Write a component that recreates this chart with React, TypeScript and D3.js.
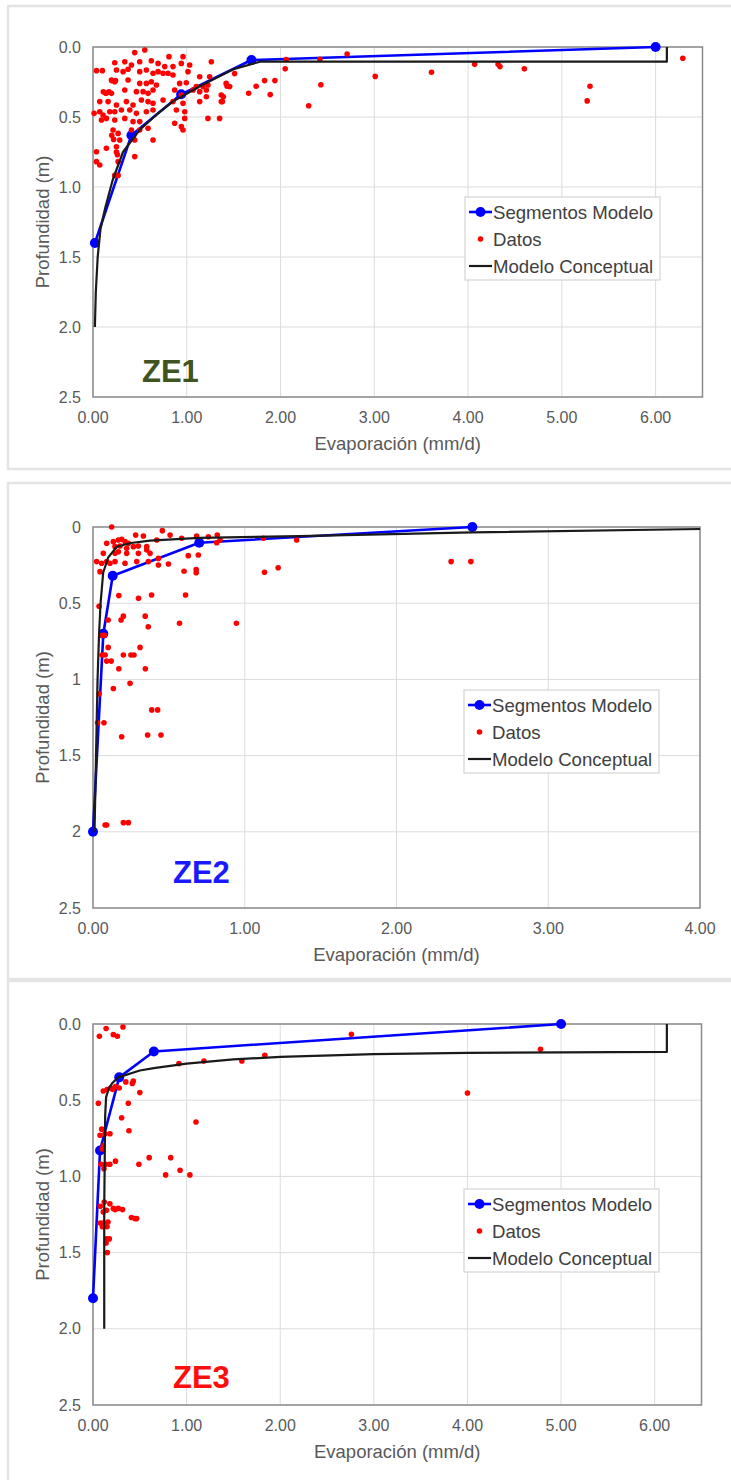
import React from "react";
import * as d3 from "d3";

type Pt = [number, number]; // [evaporación mm/d, profundidad m]

// ---------- ZE1 ----------
const ze1Segmentos: Pt[] = [[6.0, 0.0], [1.69, 0.093], [0.94, 0.338], [0.41, 0.63], [0.02, 1.4]];
const ze1Conceptual: Pt[] = [
  [0.02, 2.0], [0.03, 1.75], [0.05, 1.5], [0.08, 1.3], [0.13, 1.15], [0.21, 0.95], [0.32, 0.75],
  [0.5, 0.59], [0.7, 0.47], [0.85, 0.39], [1.14, 0.28], [1.49, 0.16], [1.78, 0.105], [6.12, 0.105], [6.12, 0.0],
];
const ze1Datos: Pt[] = [
  [0.552, 0.021], [0.445, 0.04], [0.81, 0.069], [0.96, 0.069], [1.262, 0.105],
  [0.232, 0.112], [0.339, 0.105], [0.41, 0.129], [0.498, 0.105], [0.622, 0.098], [0.694, 0.117], [0.765, 0.14],
  [0.853, 0.14], [0.942, 0.117], [1.031, 0.129],
  [0.037, 0.169], [0.1, 0.169], [0.25, 0.164], [0.321, 0.176], [0.374, 0.159], [0.498, 0.176], [0.569, 0.164],
  [0.64, 0.188], [0.694, 0.176], [0.747, 0.188], [0.8, 0.188], [0.853, 0.2], [1.013, 0.176], [1.138, 0.212], [1.244, 0.212],
  [0.197, 0.236], [0.232, 0.248], [0.374, 0.236], [0.498, 0.26], [0.569, 0.26], [0.622, 0.248], [0.676, 0.271],
  [0.924, 0.26], [0.995, 0.255], [1.102, 0.283], [1.173, 0.283], [1.226, 0.271], [1.42, 0.26], [0.2, 0.24], [0.24, 0.24],
  [0.136, 0.331], [0.197, 0.331], [0.339, 0.307], [0.463, 0.319], [0.534, 0.319], [0.587, 0.331], [0.64, 0.307],
  [0.871, 0.307], [0.942, 0.343], [1.067, 0.307], [1.138, 0.319], [1.209, 0.307], [1.368, 0.343], [1.457, 0.283],
  [0.11, 0.32], [0.14, 0.33], [0.17, 0.32],
  [0.072, 0.39], [0.161, 0.39], [0.25, 0.414], [0.356, 0.39], [0.427, 0.414], [0.516, 0.379], [0.587, 0.39],
  [0.64, 0.402], [0.747, 0.379], [0.853, 0.39], [0.96, 0.402], [1.138, 0.39], [1.209, 0.355], [1.368, 0.39],
  [0.012, 0.474], [0.072, 0.462], [0.107, 0.486], [0.179, 0.462], [0.232, 0.462], [0.303, 0.45], [0.392, 0.45],
  [0.463, 0.474], [0.569, 0.462], [0.64, 0.45], [0.889, 0.45], [0.978, 0.462], [1.226, 0.51], [1.35, 0.51],
  [0.09, 0.521], [0.143, 0.51], [0.232, 0.521], [0.339, 0.51], [0.427, 0.533], [0.498, 0.533], [0.871, 0.545],
  [0.942, 0.569], [0.978, 0.51],
  [0.214, 0.593], [0.268, 0.617], [0.41, 0.593], [0.498, 0.593], [0.587, 0.581], [0.64, 0.664], [0.445, 0.664], [0.96, 0.593],
  [0.2, 0.63], [0.22, 0.66], [0.25, 0.75], [0.26, 0.77],
  [0.037, 0.748], [0.143, 0.724], [0.25, 0.712], [0.285, 0.664],
  [0.037, 0.819], [0.072, 0.843], [0.268, 0.819], [0.445, 0.783],
  [0.232, 0.917], [0.268, 0.917],
  [2.71, 0.05], [6.29, 0.08], [2.42, 0.088], [2.06, 0.09], [2.05, 0.156], [4.07, 0.124], [4.32, 0.124], [4.34, 0.14],
  [4.6, 0.156], [3.61, 0.18], [3.01, 0.21], [1.94, 0.24], [1.83, 0.24], [1.51, 0.19], [2.43, 0.27], [5.3, 0.28],
  [5.27, 0.385], [2.3, 0.42], [1.74, 0.28], [1.89, 0.34], [1.66, 0.33], [1.43, 0.28], [1.39, 0.356], [1.38, 0.39],
];

// ---------- ZE2 ----------
const ze2Segmentos: Pt[] = [[2.5, 0.0], [0.7, 0.103], [0.13, 0.32], [0.068, 0.7], [0.0, 2.0]];
const ze2Conceptual: Pt[] = [
  [0.01, 2.0], [0.02, 1.5], [0.03, 1.0], [0.04, 0.7], [0.05, 0.5], [0.067, 0.3], [0.1, 0.2], [0.156, 0.13],
  [0.25, 0.105], [0.375, 0.09], [0.7, 0.072], [1.36, 0.06], [2.5, 0.035], [4.0, 0.013],
];
const ze2Datos: Pt[] = [
  [0.123, 0.0], [0.457, 0.024], [0.281, 0.053], [0.332, 0.059], [0.508, 0.053], [0.584, 0.074], [0.683, 0.059],
  [0.76, 0.064], [0.819, 0.053], [0.837, 0.085], [0.815, 0.103], [1.123, 0.074], [1.342, 0.085],
  [0.09, 0.107], [0.134, 0.096], [0.167, 0.085], [0.189, 0.081], [0.211, 0.096], [0.233, 0.107], [0.42, 0.085],
  [0.145, 0.129], [0.178, 0.125], [0.222, 0.14], [0.266, 0.129], [0.299, 0.125], [0.354, 0.129],
  [0.068, 0.173], [0.145, 0.173], [0.167, 0.162], [0.222, 0.173], [0.299, 0.173], [0.354, 0.151], [0.376, 0.173], [0.431, 0.206],
  [0.024, 0.227], [0.057, 0.238], [0.09, 0.227], [0.112, 0.238], [0.145, 0.227], [0.211, 0.238], [0.288, 0.227], [0.365, 0.227],
  [0.046, 0.293], [0.431, 0.249], [0.497, 0.243], [0.628, 0.188], [0.694, 0.184],
  [2.36, 0.227], [2.49, 0.227], [1.13, 0.297], [1.22, 0.267], [0.6, 0.29], [0.68, 0.28], [0.68, 0.3],
  [0.386, 0.446], [0.3, 0.468], [0.17, 0.45], [0.61, 0.446], [0.344, 0.585], [0.364, 0.655], [0.57, 0.632],
  [0.945, 0.632], [0.185, 0.61], [0.2, 0.585], [0.1, 0.61], [0.04, 0.52], [0.06, 0.71], [0.075, 0.71],
  [0.31, 0.79], [0.1, 0.79], [0.06, 0.84], [0.08, 0.84], [0.2, 0.84], [0.25, 0.84], [0.27, 0.84],
  [0.17, 0.93], [0.345, 0.93], [0.09, 0.88], [0.12, 0.88],
  [0.244, 1.026], [0.134, 1.06], [0.04, 1.095], [0.387, 1.2], [0.426, 1.2], [0.03, 1.284], [0.072, 1.284],
  [0.189, 1.376], [0.36, 1.365], [0.448, 1.365], [0.08, 1.955], [0.09, 1.955], [0.2, 1.94], [0.233, 1.94],
];

// ---------- ZE3 ----------
const ze3Segmentos: Pt[] = [[5.0, 0.0], [0.65, 0.18], [0.28, 0.35], [0.075, 0.83], [0.0, 1.8]];
const ze3Conceptual: Pt[] = [
  [0.12, 2.0], [0.12, 1.2], [0.13, 0.6], [0.14, 0.48], [0.17, 0.42], [0.21, 0.385], [0.27, 0.35], [0.5, 0.305],
  [0.65, 0.29], [1.0, 0.26], [1.5, 0.232], [2.0, 0.216], [3.0, 0.198], [4.0, 0.19], [5.0, 0.186], [6.13, 0.183], [6.13, 0.0],
];
const ze3Datos: Pt[] = [
  [0.068, 0.081], [0.14, 0.03], [0.217, 0.07], [0.26, 0.08], [0.32, 0.02], [0.918, 0.26], [1.185, 0.243],
  [1.59, 0.243], [1.835, 0.205], [2.76, 0.068], [4.78, 0.166], [4.0, 0.453],
  [0.35, 0.38], [0.42, 0.39], [0.43, 0.375], [0.5, 0.45],
  [0.11, 0.44], [0.15, 0.43], [0.19, 0.42], [0.24, 0.41], [0.28, 0.42], [0.21, 0.43],
  [0.057, 0.52], [0.377, 0.52], [0.306, 0.615], [1.1, 0.643], [0.384, 0.7],
  [0.093, 0.69], [0.128, 0.72], [0.075, 0.73], [0.181, 0.72], [0.1, 0.82], [0.11, 0.8],
  [0.085, 0.92], [0.135, 0.92], [0.18, 0.92], [0.117, 0.95], [0.24, 0.9], [0.49, 0.92], [0.6, 0.877],
  [0.83, 0.877], [0.776, 0.99], [0.93, 0.96], [1.035, 0.99],
  [0.078, 1.196], [0.12, 1.168], [0.18, 1.18], [0.145, 1.222], [0.217, 1.21], [0.235, 1.218], [0.27, 1.21],
  [0.316, 1.218], [0.11, 1.233], [0.41, 1.27], [0.45, 1.277], [0.466, 1.277],
  [0.078, 1.306], [0.11, 1.306], [0.16, 1.299], [0.1, 1.33], [0.15, 1.33],
  [0.146, 1.41], [0.174, 1.41], [0.14, 1.437], [0.153, 1.5],
];

const depthTicks = [0, 0.5, 1, 1.5, 2, 2.5];
const ticksTo6 = [0, 1, 2, 3, 4, 5, 6];
const ticksTo4 = [0, 1, 2, 3, 4];
const legendLabels = ["Segmentos Modelo", "Datos", "Modelo Conceptual"];
const xTitle = "Evaporación (mm/d)";
const yTitle = "Profundidad (m)";

const FONT = "'Liberation Sans', Arial, sans-serif";
const BLUE = "#0000ff";
const RED = "#ff0000";
const BLACK = "#1a1a1a";
const GRAY_TXT = "#595959";

interface PanelCfg {
  frameTop: number;
  frameBottom: number;
  left: number;
  right: number;
  top: number;
  bottom: number;
  xMax: number;
  xTicks: number[];
  yFmt: (d: number) => string;
  segmentos: Pt[];
  conceptual: Pt[];
  datos: Pt[];
  label: string;
  labelColor: string;
  labelX: number;
  labelY: number;
  legendX: number;
  legendY: number;
}

const fmt1 = d3.format(".1f");
const fmtG = (d: number) => String(d);
const fmt2 = d3.format(".2f");

const panels: PanelCfg[] = [
  {
    frameTop: 6, frameBottom: 469, left: 93, right: 702.5, top: 47, bottom: 397,
    xMax: 6.5, xTicks: ticksTo6, yFmt: fmt1,
    segmentos: ze1Segmentos, conceptual: ze1Conceptual, datos: ze1Datos,
    label: "ZE1", labelColor: "#3f5420", labelX: 142, labelY: 382, legendX: 465, legendY: 197,
  },
  {
    frameTop: 483, frameBottom: 979, left: 93, right: 700, top: 527, bottom: 908,
    xMax: 4, xTicks: ticksTo4, yFmt: fmtG,
    segmentos: ze2Segmentos, conceptual: ze2Conceptual, datos: ze2Datos,
    label: "ZE2", labelColor: "#1a1aff", labelX: 173, labelY: 883, legendX: 464, legendY: 690,
  },
  {
    frameTop: 981, frameBottom: 1500, left: 93, right: 701.5, top: 1024, bottom: 1405,
    xMax: 6.5, xTicks: ticksTo6, yFmt: fmt1,
    segmentos: ze3Segmentos, conceptual: ze3Conceptual, datos: ze3Datos,
    label: "ZE3", labelColor: "#ff0d0d", labelX: 173, labelY: 1388, legendX: 464, legendY: 1189,
  },
];

function Panel({ cfg }: { cfg: PanelCfg }) {
  const x = d3.scaleLinear().domain([0, cfg.xMax]).range([cfg.left, cfg.right]);
  const y = d3.scaleLinear().domain([0, 2.5]).range([cfg.top, cfg.bottom]);
  const line = d3.line<Pt>().x((d) => x(d[0])).y((d) => y(d[1]));
  const lx = cfg.legendX;
  const ly = cfg.legendY;
  const rows = [15, 42, 69];

  return (
    <g>
      <rect x={8} y={cfg.frameTop} width={740} height={cfg.frameBottom - cfg.frameTop}
        fill="#ffffff" stroke="#e4e4e4" strokeWidth={2.5} />

      {/* gridlines */}
      {cfg.xTicks.map((t) => (
        <line key={"gx" + t} x1={x(t)} x2={x(t)} y1={cfg.top} y2={cfg.bottom} stroke="#dcdcdc" strokeWidth={1} />
      ))}
      {depthTicks.map((t) => (
        <line key={"gy" + t} x1={cfg.left} x2={cfg.right} y1={y(t)} y2={y(t)} stroke="#dcdcdc" strokeWidth={1} />
      ))}
      <rect x={cfg.left} y={cfg.top} width={cfg.right - cfg.left} height={cfg.bottom - cfg.top}
        fill="none" stroke="#8a8a8a" strokeWidth={1.5} />

      {/* tick labels */}
      {depthTicks.map((t) => (
        <text key={"ty" + t} x={cfg.left - 12} y={y(t)} dy="0.35em" textAnchor="end"
          fontFamily={FONT} fontSize={16} fill={GRAY_TXT}>{cfg.yFmt(t)}</text>
      ))}
      {cfg.xTicks.map((t) => (
        <text key={"tx" + t} x={x(t)} y={cfg.bottom + 26} textAnchor="middle"
          fontFamily={FONT} fontSize={16} fill={GRAY_TXT}>{fmt2(t)}</text>
      ))}

      {/* axis titles */}
      <text x={(cfg.left + cfg.right) / 2} y={cfg.bottom + 53} textAnchor="middle"
        fontFamily={FONT} fontSize={18.5} fill={GRAY_TXT}>{xTitle}</text>
      <text transform={`translate(43,${(cfg.top + cfg.bottom) / 2}) rotate(-90)`} textAnchor="middle" dy="0.35em"
        fontFamily={FONT} fontSize={18.5} fill={GRAY_TXT}>{yTitle}</text>

      {/* series */}
      <path d={line(cfg.segmentos) ?? ""} fill="none" stroke={BLUE} strokeWidth={2.6} strokeLinejoin="round" />
      {cfg.segmentos.map((d, i) => (
        <circle key={"s" + i} cx={x(d[0])} cy={y(d[1])} r={5} fill={BLUE} />
      ))}
      {cfg.datos.map((d, i) => (
        <circle key={"d" + i} cx={x(d[0])} cy={y(d[1])} r={2.8} fill={RED} />
      ))}
      <path d={line(cfg.conceptual) ?? ""} fill="none" stroke={BLACK} strokeWidth={2.2} strokeLinejoin="round" />

      {/* zone label */}
      <text x={cfg.labelX} y={cfg.labelY} fontFamily={FONT} fontWeight="bold" fontSize={31}
        fill={cfg.labelColor}>{cfg.label}</text>

      {/* legend */}
      <rect x={lx} y={ly} width={195} height={83} fill="#ffffff" stroke="#d4d4d4" strokeWidth={1.2} />
      <line x1={lx + 4} x2={lx + 27} y1={ly + rows[0]} y2={ly + rows[0]} stroke={BLUE} strokeWidth={2.6} />
      <circle cx={lx + 15.5} cy={ly + rows[0]} r={5} fill={BLUE} />
      <circle cx={lx + 15.5} cy={ly + rows[1]} r={2.8} fill={RED} />
      <line x1={lx + 4} x2={lx + 27} y1={ly + rows[2]} y2={ly + rows[2]} stroke={BLACK} strokeWidth={2.2} />
      {legendLabels.map((s, i) => (
        <text key={s} x={lx + 28} y={ly + rows[i]} dy="0.35em" fontFamily={FONT} fontSize={18.6}
          fill="#404040">{s}</text>
      ))}
    </g>
  );
}

export default function App() {
  return (
    <svg width={731} height={1480} style={{ position: "absolute", left: 0, top: 0, background: "#ffffff" }}>
      <rect x={0} y={0} width={731} height={1480} fill="#ffffff" />
      {panels.map((p) => (
        <Panel key={p.label} cfg={p} />
      ))}
    </svg>
  );
}
